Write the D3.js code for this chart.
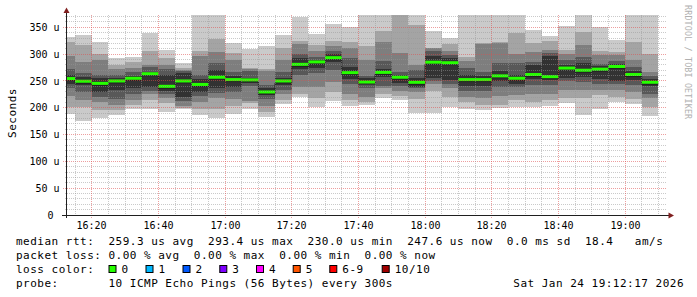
<!DOCTYPE html>
<html><head><meta charset="utf-8">
<script src="https://cdn.jsdelivr.net/npm/d3@7"></script>
<style>
body{margin:0;background:#fff}
svg{display:block}
text{font-family:"DejaVu Sans Mono",monospace}
</style>
</head><body>
<svg id="c" width="697" height="297"></svg>
<script>
// ---- data ----
const times = ["16:10","16:15","16:20","16:25","16:30","16:35","16:40","16:45","16:50","16:55",
  "17:00","17:05","17:10","17:15","17:20","17:25","17:30","17:35","17:40","17:45",
  "17:50","17:55","18:00","18:05","18:10","18:15","18:20","18:25","18:30","18:35",
  "18:40","18:45","18:50","18:55","19:00","19:05"];
const ping1 = [189,176,181,186,198,198,192,197,186,181,189,198,182,207,220,201,212,203,205,218,214,190,190,202,197,196,199,202,202,204,208,187,198,210,207,185];
const ping2 = [201,201,195,195,206,214,208,200,197,198,203,208,192,214,226,218,230,214,211,225,222,216,232,221,211,206,206,215,211,214,218,219,224,220,216,201];
const ping3 = [222,214,211,205,214,226,218,203,210,218,217,212,204,226,239,239,248,226,221,236,232,230,245,236,221,218,222,223,226,226,233,234,233,234,229,218];
const ping4 = [237,229,220,216,226,232,226,212,222,228,230,241,216,234,261,264,270,245,236,241,241,236,250,244,231,232,239,239,242,242,249,248,245,244,242,225];
const ping5 = [245,242,230,233,236,239,232,220,230,236,239,246,223,242,273,275,285,254,244,257,247,238,255,252,240,240,250,245,254,251,256,257,254,250,251,240];
const ping6 = [261,258,255,256,260,267,262,264,254,270,260,256,236,256,292,290,300,276,255,272,261,256,296,292,262,260,268,262,279,296,280,283,278,281,268,254];
const ping7 = [273,264,261,262,266,276,272,268,261,284,266,268,243,267,301,295,305,292,259,288,267,270,305,298,274,266,283,283,286,302,289,295,281,288,276,260];
const ping8 = [296,285,289,272,275,279,280,270,296,304,289,272,268,289,318,305,315,311,290,323,302,279,311,306,288,318,320,300,304,307,300,317,298,298,290,266];
const ping9 = [323,317,301,279,286,305,293,274,306,328,303,274,273,311,325,317,324,322,315,343,373,354,312,318,295,320,323,339,320,324,308,341,305,304,323,301];
const ping10 = [332,335,323,292,294,340,308,284,373,373,320,309,315,335,370,338,357,351,373,373,373,373,343,331,373,373,373,373,345,333,352,373,351,326,373,373];
const median = [254.5,249.5,245.5,250,255,263.5,240,250,243.5,257,252.5,252,229.5,250,281,285.5,293.4,265.5,248,266,257,247.5,285,284,252.5,252.5,259.5,255,262,258,274,270,272,277,262,247.6];
const yTickValues = [0,50,100,150,200,250,300,350];
const yTickLabels = ["0","50 u","100 u","150 u","200 u","250 u","300 u","350 u"];
const xTickLabels = ["16:20","16:40","17:00","17:20","17:40","18:00","18:20","18:40","19:00"];
const lossLabels = ["0","1","2","3","4","5","6-9","10/10"];
const lossColors = ["#26ff00","#00b8ff","#0059ff","#7e00ff","#ff00ff","#ff5500","#ff0000","#a00000"];
const smokeColors = ["#cacaca","#a4a4a4","#7e7e7e","#585858","#323232"];
const legendLines = [
  "median rtt:  259.3 us avg  293.4 us max  230.0 us min  247.6 us now  0.0 ms sd  18.4   am/s",
  "packet loss: 0.00 % avg  0.00 % max  0.00 % min  0.00 % now",
  "loss color:",
  "probe:       10 ICMP Echo Pings (56 Bytes) every 300s"
];
const stamp = "Sat Jan 24 19:12:17 2026";

// ---- setup ----
const svg = d3.select("#c");
const day = t => { const p = t.split(":").map(Number); return new Date(Date.UTC(2026,0,24,p[0],p[1],p[2]||0)); };
const STEP = 300000;
const x = d3.scaleUtc().domain([day("16:12:17"), day("19:12:17")]).range([66, 666]);
const y = d3.scaleLinear().domain([0, 373]).range([215, 15]);
const pings = [ping1,ping2,ping3,ping4,ping5,ping6,ping7,ping8,ping9,ping10];

svg.append("defs").append("clipPath").attr("id","clip")
  .append("rect").attr("x",67).attr("y",15).attr("width",599).attr("height",200);

const plot = svg.append("g").attr("clip-path","url(#clip)");
const x0 = t => x(day(t));
const x1 = t => x(new Date(+day(t) + STEP));

for (let i = 0; i < 5; i++) {
  plot.append("g").selectAll("rect").data(times).join("rect")
    .attr("x", d => x0(d)).attr("width", d => x1(d) - x0(d))
    .attr("y", (d,j) => y(pings[9-i][j]))
    .attr("height", (d,j) => y(pings[i][j]) - y(pings[9-i][j]))
    .attr("fill", smokeColors[i]).attr("shape-rendering","crispEdges");
}

// median dark step line
const pts = times.map((t,j) => [x0(t), y(median[j]) + 2]);
pts.push([x1(times[times.length-1]), y(median[median.length-1]) + 2]);
plot.append("path").attr("d", d3.line().curve(d3.curveStepAfter)(pts))
  .attr("fill","none").attr("stroke","#202020").attr("stroke-width",1);

// green median band
plot.append("g").selectAll("rect").data(times).join("rect")
  .attr("x", d => x0(d)).attr("width", d => x1(d) - x0(d))
  .attr("y", (d,j) => y(median[j]) - 1.5).attr("height", 3)
  .attr("fill", lossColors[0]);

// ---- grid (on top) ----
const grid = svg.append("g").attr("fill","none").attr("stroke-dasharray","1,1");
const px = v => Math.floor(v) + 0.5;
const minorColor = "rgba(150,150,150,0.5)";
const majorColor = "rgba(222,79,79,0.55)";
const minorY = d3.range(10, 373, 10).filter(v => v % 50 !== 0);
grid.selectAll(".hm").data(minorY).join("line")
  .attr("x1",65).attr("x2",666).attr("y1",d=>px(y(d))).attr("y2",d=>px(y(d)))
  .attr("stroke",minorColor);
const majorY = yTickValues.filter(v => v > 0);
grid.selectAll(".hM").data(majorY).join("line")
  .attr("x1",63).attr("x2",666).attr("y1",d=>px(y(d))).attr("y2",d=>px(y(d)))
  .attr("stroke",majorColor);
const minorX = d3.utcMinute.every(5).range(day("16:15"), day("19:12:17")).filter(d => d.getUTCMinutes() % 20 !== 0);
grid.selectAll(".vm").data(minorX).join("line")
  .attr("x1",d=>px(x(d))).attr("x2",d=>px(x(d))).attr("y1",15).attr("y2",217)
  .attr("stroke",minorColor);
const majorX = xTickLabels.map(day);
grid.selectAll(".vM").data(majorX).join("line")
  .attr("x1",d=>px(x(d))).attr("x2",d=>px(x(d))).attr("y1",15).attr("y2",218)
  .attr("stroke",majorColor);

// ---- axes ----
svg.append("line").attr("x1",62).attr("x2",669).attr("y1",215.5).attr("y2",215.5).attr("stroke","#1f1f1f");
svg.append("line").attr("x1",66.5).attr("x2",66.5).attr("y1",218).attr("y2",12).attr("stroke","#1f1f1f");
svg.append("path").attr("d","M63.5,13L69.5,13L66.5,7.5Z").attr("fill","#801f1f");
svg.append("path").attr("d","M668.5,212.5L668.5,218.5L674,215.5Z").attr("fill","#801f1f");

// y tick labels
svg.append("g").selectAll("text").data(yTickValues).join("text")
  .attr("x", (d,i) => yTickLabels[i].includes("u") ? 59.5 : 53.5)
  .attr("y", d => y(d) + 3.6)
  .attr("text-anchor","end").attr("font-size",10).attr("fill","#000")
  .text((d,i) => yTickLabels[i]);

// x tick labels
svg.append("g").selectAll("text").data(xTickLabels).join("text")
  .attr("x", d => px(x(day(d)))).attr("y", 228.5)
  .attr("text-anchor","middle").attr("font-size",10).attr("fill","#000")
  .text(d => d);

// axis title
svg.append("text").attr("transform","translate(16,113) rotate(-90)")
  .attr("text-anchor","middle").attr("font-size",11).attr("letter-spacing","0.49px")
  .attr("fill","#000").text("Seconds");

// watermark
svg.append("text").attr("transform","translate(685,5) rotate(90)")
  .attr("font-size",8.3).attr("letter-spacing","0.2px").attr("fill","#b0b0b0").text("RRDTOOL / TOBI OETIKER");

// legend
const base = [245, 259, 273, 287];
svg.append("g").selectAll("text").data(legendLines).join("text")
  .attr("x",16).attr("y",(d,i)=>base[i])
  .attr("font-size",11).attr("letter-spacing","0.49px").attr("fill","#000")
  .attr("xml:space","preserve").style("white-space","pre")
  .text(d => d);
const boxX = [108.5,145.5,182.5,219.3,256,292.7,329.3,381.7];
const lg = svg.append("g");
lg.selectAll("rect").data(lossLabels).join("rect")
  .attr("x",(d,i)=>boxX[i]+0.5).attr("y",265.5).attr("width",7).attr("height",7)
  .attr("fill",(d,i)=>lossColors[i]).attr("stroke","#000").attr("stroke-width",1);
lg.selectAll("text").data(lossLabels).join("text")
  .attr("x",(d,i)=>boxX[i]+13).attr("y",base[2])
  .attr("font-size",11).attr("letter-spacing","0.49px").attr("fill","#000")
  .text(d=>d);
svg.append("text").attr("x",513.3).attr("y",base[3])
  .attr("font-size",11).attr("letter-spacing","0.49px").attr("fill","#000")
  .text(stamp);
</script>
</body></html>
